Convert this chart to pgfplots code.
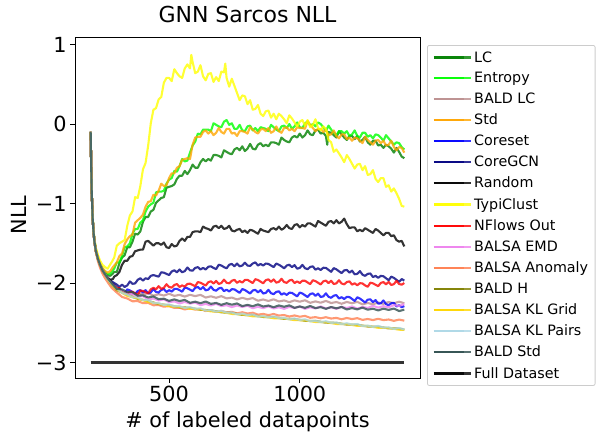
\documentclass[border=0pt]{standalone}
\usepackage{fontspec}
\setmainfont{DejaVu Sans}
\usepackage{pgfplots}
\pgfplotsset{compat=1.18}
\definecolor{cLC}{HTML}{008000}
\definecolor{cEnt}{HTML}{00FF00}
\definecolor{cBLC}{HTML}{BC8F8F}
\definecolor{cStd}{HTML}{FFA500}
\definecolor{cCore}{HTML}{0000FF}
\definecolor{cGCN}{HTML}{000080}
\definecolor{cRand}{HTML}{000000}
\definecolor{cTypi}{HTML}{FFFF00}
\definecolor{cNF}{HTML}{FF0000}
\definecolor{cEMD}{HTML}{EE82EE}
\definecolor{cAnom}{HTML}{FF7F50}
\definecolor{cBH}{HTML}{808000}
\definecolor{cKLG}{HTML}{FFD700}
\definecolor{cKLP}{HTML}{ADD8E6}
\definecolor{cBStd}{HTML}{2F4F4F}
\begin{document}
\begin{tikzpicture}
\useasboundingbox (0,0) rectangle (604bp,434bp);
\begin{axis}[
  at={(75bp,56bp)}, anchor=south west,
  scale only axis, width=345bp, height=341bp,
  xmin=140, xmax=1460, ymin=-3.195, ymax=1.095,
  xtick={500,1000}, xticklabels={500,1000},
  ytick={-3,-2,-1,0,1}, yticklabels={−3,−2,−1,0,1},
  tick pos=left, tick align=outside, major tick length=4.9bp,
  every tick/.style={black, line width=0.8bp},
  axis line style={line width=0.8bp},
  tick label style={font=\fontsize{20.8bp}{25bp}\selectfont},
  title={GNN Sarcos NLL},
  title style={font=\fontsize{22bp}{26bp}\selectfont, at={(axis description cs:0.5,1)}, anchor=base, yshift=8.5bp},
  xlabel={\# of labeled datapoints},
  xlabel style={font=\fontsize{20.8bp}{25bp}\selectfont, at={(axis description cs:0.5,0)}, anchor=base, yshift=-49bp},
  ylabel={NLL},
  ylabel style={font=\fontsize{20.8bp}{25bp}\selectfont, at={(axis description cs:-0.1623,0.478)}, anchor=center},
  every axis plot/.append style={line width=2.1bp, opacity=0.8, mark=none, line join=round},
  legend cell align=left,
  legend image code/.code={\draw[#1] (0bp,0bp) -- (30bp,0bp); \path (0bp,0bp) -- (37bp,0bp);},
  legend style={at={(1.0203,0.9765)}, anchor=north west, draw=black!20, line width=0.8bp, rounded corners=2bp,
    font=\fontsize{14.3bp}{16.7bp}\selectfont, inner xsep=5bp, inner ysep=4bp, row sep=4.85bp},
]
% LC
\addplot[cLC] coordinates {(200,-0.1)(202,-0.55)(204,-0.85)(207,-1.14)(210,-1.31)(214,-1.46)(220,-1.58)(228,-1.69)(236,-1.77)(245,-1.83)(255,-1.88)(265,-1.9)(275,-1.91)(285,-1.88)(290,-1.86)(300,-1.86)(310,-1.75)(320,-1.68)(330,-1.65)(340,-1.55)(350,-1.55)(360,-1.48)(370,-1.38)(380,-1.39)(390,-1.35)(400,-1.23)(410,-1.17)(420,-1.17)(430,-1.10)(440,-1.08)(450,-0.99)(460,-0.96)(470,-0.93)(480,-0.92)(490,-0.80)(500,-0.79)(510,-0.78)(520,-0.76)(530,-0.69)(540,-0.65)(550,-0.65)(560,-0.59)(570,-0.63)(580,-0.58)(590,-0.51)(600,-0.55)(610,-0.55)(620,-0.48)(630,-0.44)(640,-0.47)(650,-0.44)(660,-0.46)(670,-0.39)(680,-0.39)(690,-0.40)(700,-0.42)(710,-0.33)(720,-0.35)(730,-0.37)(740,-0.38)(750,-0.32)(760,-0.30)(770,-0.33)(780,-0.28)(790,-0.34)(800,-0.31)(810,-0.25)(820,-0.31)(830,-0.32)(840,-0.26)(850,-0.24)(860,-0.28)(870,-0.26)(880,-0.28)(890,-0.23)(900,-0.23)(910,-0.24)(920,-0.26)(930,-0.17)(940,-0.20)(950,-0.22)(960,-0.23)(970,-0.17)(980,-0.15)(990,-0.17)(1000,-0.12)(1010,-0.17)(1020,-0.14)(1030,-0.08)(1040,-0.13)(1050,-0.14)(1060,-0.08)(1070,-0.07)(1080,-0.12)(1090,-0.11)(1100,-0.15)(1105,-0.26)(1110,-0.10)(1120,-0.11)(1130,-0.14)(1140,-0.17)(1150,-0.09)(1160,-0.13)(1170,-0.17)(1180,-0.20)(1190,-0.15)(1200,-0.15)(1210,-0.19)(1220,-0.15)(1230,-0.22)(1240,-0.20)(1250,-0.16)(1260,-0.23)(1270,-0.26)(1280,-0.21)(1290,-0.21)(1300,-0.27)(1310,-0.26)(1320,-0.30)(1330,-0.26)(1340,-0.28)(1350,-0.31)(1360,-0.36)(1370,-0.30)(1380,-0.35)(1390,-0.41)(1400,-0.43)};
\addlegendentry{LC}
% Entropy
\addplot[cEnt] coordinates {(200,-0.1)(202,-0.55)(204,-0.85)(207,-1.14)(210,-1.31)(214,-1.46)(220,-1.58)(228,-1.68)(236,-1.76)(245,-1.82)(255,-1.86)(265,-1.89)(275,-1.88)(285,-1.84)(290,-1.82)(300,-1.74)(310,-1.74)(320,-1.66)(330,-1.55)(340,-1.54)(350,-1.50)(360,-1.38)(370,-1.32)(380,-1.32)(390,-1.24)(400,-1.21)(410,-1.10)(420,-1.04)(430,-1.01)(440,-0.99)(450,-0.86)(460,-0.85)(470,-0.85)(480,-0.84)(490,-0.75)(500,-0.70)(510,-0.68)(520,-0.59)(530,-0.60)(540,-0.53)(550,-0.44)(560,-0.47)(570,-0.46)(580,-0.36)(590,-0.27)(600,-0.22)(610,-0.12)(620,-0.13)(630,-0.07)(640,-0.07)(650,-0.07)(660,-0.09)(670,0.01)(680,-0.01)(690,-0.03)(700,-0.04)(710,0.03)(720,0.05)(730,-0.01)(740,0.01)(750,-0.06)(760,-0.06)(770,-0.01)(780,-0.08)(790,-0.09)(800,-0.03)(810,-0.02)(820,-0.08)(830,-0.05)(840,-0.09)(850,-0.04)(860,-0.05)(870,-0.06)(880,-0.09)(890,-0.01)(900,-0.04)(910,-0.07)(920,-0.09)(930,-0.03)(940,-0.02)(950,-0.05)(960,0.0)(970,-0.06)(980,-0.03)(990,0.02)(1000,-0.04)(1010,-0.05)(1020,0.01)(1030,0.03)(1040,-0.02)(1050,0.0)(1060,-0.03)(1070,0.02)(1080,0.0)(1090,-0.04)(1100,-0.09)(1110,-0.02)(1120,-0.07)(1130,-0.11)(1140,-0.14)(1150,-0.09)(1160,-0.09)(1170,-0.12)(1180,-0.09)(1190,-0.15)(1200,-0.13)(1210,-0.08)(1220,-0.15)(1230,-0.17)(1240,-0.11)(1250,-0.11)(1260,-0.16)(1270,-0.14)(1280,-0.18)(1290,-0.13)(1300,-0.14)(1310,-0.17)(1320,-0.21)(1330,-0.14)(1340,-0.18)(1350,-0.22)(1360,-0.26)(1370,-0.23)(1380,-0.24)(1390,-0.29)(1400,-0.32)};
\addlegendentry{Entropy}
% BALD LC
\addplot[cBLC] coordinates {(200,-0.1)(202,-0.55)(204,-0.85)(207,-1.15)(210,-1.32)(214,-1.47)(220,-1.6)(228,-1.7)(236,-1.77)(245,-1.84)(255,-1.89)(265,-1.93)(280,-1.99)(300,-2.055)(320,-2.11)(340,-2.115)(360,-2.145)(380,-2.125)(400,-2.145)(420,-2.127)(440,-2.159)(460,-2.141)(480,-2.158)(500,-2.135)(520,-2.162)(540,-2.149)(560,-2.171)(580,-2.148)(600,-2.165)(620,-2.149)(640,-2.183)(660,-2.167)(680,-2.186)(700,-2.165)(720,-2.194)(740,-2.183)(760,-2.207)(780,-2.186)(800,-2.205)(820,-2.189)(840,-2.223)(860,-2.207)(880,-2.226)(900,-2.205)(920,-2.232)(940,-2.219)(960,-2.241)(980,-2.218)(1000,-2.235)(1020,-2.217)(1040,-2.249)(1060,-2.231)(1080,-2.248)(1100,-2.225)(1120,-2.252)(1140,-2.239)(1160,-2.261)(1180,-2.238)(1200,-2.255)(1220,-2.237)(1240,-2.269)(1260,-2.251)(1280,-2.268)(1300,-2.245)(1320,-2.262)(1340,-2.239)(1360,-2.255)(1380,-2.235)(1400,-2.255)};
\addlegendentry{BALD LC}
% Std
\addplot[cStd] coordinates {(200,-0.1)(202,-0.55)(204,-0.85)(207,-1.14)(210,-1.31)(214,-1.46)(220,-1.58)(228,-1.68)(236,-1.75)(245,-1.81)(255,-1.85)(265,-1.87)(275,-1.85)(285,-1.8)(290,-1.78)(300,-1.74)(310,-1.66)(320,-1.63)(330,-1.51)(340,-1.45)(350,-1.41)(360,-1.39)(370,-1.24)(380,-1.21)(390,-1.18)(400,-1.14)(410,-1.04)(420,-0.98)(430,-0.97)(440,-0.89)(450,-0.90)(460,-0.84)(470,-0.75)(480,-0.78)(490,-0.77)(500,-0.68)(510,-0.62)(520,-0.62)(530,-0.55)(540,-0.53)(550,-0.45)(560,-0.44)(570,-0.43)(580,-0.44)(590,-0.26)(600,-0.17)(610,-0.16)(620,-0.16)(630,-0.10)(640,-0.08)(650,-0.12)(660,-0.09)(670,-0.14)(680,-0.11)(690,-0.05)(700,-0.10)(710,-0.12)(720,-0.06)(730,-0.06)(740,-0.12)(750,-0.11)(760,-0.15)(770,-0.09)(780,-0.09)(790,-0.10)(800,-0.12)(810,-0.04)(820,-0.07)(830,-0.10)(840,-0.12)(850,-0.07)(860,-0.06)(870,-0.09)(880,-0.05)(890,-0.11)(900,-0.09)(910,-0.03)(920,-0.09)(930,-0.11)(940,-0.05)(950,-0.04)(960,-0.08)(970,-0.06)(980,-0.09)(990,-0.04)(1000,-0.05)(1010,-0.05)(1020,-0.06)(1030,0.04)(1040,-0.01)(1050,-0.05)(1060,-0.09)(1070,-0.06)(1080,-0.06)(1090,-0.10)(1100,-0.07)(1110,-0.14)(1120,-0.13)(1130,-0.08)(1140,-0.15)(1150,-0.18)(1160,-0.13)(1170,-0.13)(1180,-0.19)(1190,-0.17)(1200,-0.21)(1210,-0.17)(1220,-0.18)(1230,-0.21)(1240,-0.24)(1250,-0.16)(1260,-0.20)(1270,-0.23)(1280,-0.26)(1290,-0.21)(1300,-0.20)(1310,-0.24)(1320,-0.21)(1330,-0.27)(1340,-0.26)(1350,-0.21)(1360,-0.29)(1370,-0.33)(1380,-0.29)(1390,-0.30)(1400,-0.36)};
\addlegendentry{Std}
% Coreset
\addplot[cCore] coordinates {(200,-0.1)(202,-0.55)(204,-0.85)(207,-1.15)(210,-1.32)(214,-1.47)(220,-1.6)(228,-1.7)(236,-1.77)(245,-1.84)(255,-1.89)(265,-1.94)(280,-2.0)(300,-2.06)(310,-2.07)(320,-2.10)(330,-2.125)(340,-2.08)(350,-2.093)(360,-2.115)(370,-2.138)(380,-2.10)(390,-2.09)(400,-2.12)(410,-2.09)(420,-2.13)(430,-2.118)(440,-2.075)(450,-2.113)(460,-2.12)(470,-2.088)(480,-2.075)(490,-2.113)(500,-2.09)(510,-2.108)(520,-2.075)(530,-2.073)(540,-2.09)(550,-2.109)(560,-2.058)(570,-2.066)(580,-2.084)(590,-2.102)(600,-2.06)(610,-2.05)(620,-2.08)(630,-2.051)(640,-2.092)(650,-2.083)(660,-2.045)(670,-2.086)(680,-2.097)(690,-2.068)(700,-2.06)(710,-2.102)(720,-2.084)(730,-2.106)(740,-2.078)(750,-2.08)(760,-2.102)(770,-2.124)(780,-2.076)(790,-2.088)(800,-2.11)(810,-2.132)(820,-2.094)(830,-2.086)(840,-2.118)(850,-2.09)(860,-2.132)(870,-2.124)(880,-2.086)(890,-2.128)(900,-2.14)(910,-2.112)(920,-2.104)(930,-2.146)(940,-2.128)(950,-2.15)(960,-2.122)(970,-2.124)(980,-2.146)(990,-2.168)(1000,-2.12)(1010,-2.132)(1020,-2.154)(1030,-2.176)(1040,-2.138)(1050,-2.13)(1060,-2.162)(1070,-2.134)(1080,-2.176)(1090,-2.168)(1100,-2.13)(1110,-2.173)(1120,-2.186)(1130,-2.159)(1140,-2.152)(1150,-2.195)(1160,-2.178)(1170,-2.201)(1180,-2.174)(1190,-2.177)(1200,-2.20)(1210,-2.225)(1220,-2.18)(1230,-2.195)(1240,-2.22)(1250,-2.245)(1260,-2.21)(1270,-2.205)(1280,-2.24)(1290,-2.215)(1300,-2.26)(1310,-2.255)(1320,-2.22)(1330,-2.265)(1340,-2.28)(1350,-2.255)(1360,-2.25)(1370,-2.295)(1380,-2.28)(1390,-2.305)(1400,-2.29)};
\addlegendentry{Coreset}
% CoreGCN
\addplot[cGCN] coordinates {(200,-0.1)(202,-0.55)(204,-0.85)(207,-1.15)(210,-1.32)(214,-1.47)(220,-1.6)(228,-1.7)(236,-1.77)(245,-1.84)(255,-1.89)(265,-1.93)(280,-1.98)(300,-2.02)(310,-2.05)(320,-2.02)(330,-2.05)(340,-2.03)(350,-1.98)(360,-2.01)(370,-2.005)(380,-1.96)(390,-1.94)(400,-1.97)(410,-1.94)(420,-1.95)(430,-1.91)(440,-1.90)(450,-1.91)(460,-1.92)(470,-1.865)(480,-1.87)(490,-1.885)(500,-1.90)(510,-1.855)(520,-1.84)(530,-1.865)(540,-1.83)(550,-1.865)(560,-1.85)(570,-1.805)(580,-1.84)(590,-1.845)(600,-1.81)(610,-1.80)(620,-1.83)(630,-1.81)(640,-1.83)(650,-1.795)(660,-1.79)(670,-1.81)(680,-1.825)(690,-1.77)(700,-1.78)(710,-1.80)(720,-1.815)(730,-1.77)(740,-1.76)(750,-1.79)(760,-1.755)(770,-1.79)(780,-1.78)(790,-1.745)(800,-1.78)(810,-1.785)(820,-1.755)(830,-1.74)(840,-1.78)(850,-1.76)(860,-1.78)(870,-1.755)(880,-1.76)(890,-1.78)(900,-1.80)(910,-1.755)(920,-1.77)(930,-1.79)(940,-1.815)(950,-1.78)(960,-1.77)(970,-1.80)(980,-1.775)(990,-1.82)(1000,-1.81)(1010,-1.772)(1020,-1.814)(1030,-1.826)(1040,-1.798)(1050,-1.79)(1060,-1.832)(1070,-1.814)(1080,-1.836)(1090,-1.808)(1100,-1.81)(1110,-1.835)(1120,-1.859)(1130,-1.813)(1140,-1.828)(1150,-1.852)(1160,-1.876)(1170,-1.841)(1180,-1.836)(1190,-1.87)(1200,-1.845)(1210,-1.89)(1220,-1.885)(1230,-1.85)(1240,-1.895)(1250,-1.91)(1260,-1.885)(1270,-1.88)(1280,-1.925)(1290,-1.91)(1300,-1.935)(1310,-1.91)(1320,-1.915)(1330,-1.94)(1340,-1.965)(1350,-1.92)(1360,-1.935)(1370,-1.96)(1380,-1.985)(1390,-1.95)(1400,-1.97)};
\addlegendentry{CoreGCN}
% Random
\addplot[cRand] coordinates {(200,-0.1)(202,-0.55)(204,-0.85)(207,-1.15)(210,-1.32)(214,-1.47)(220,-1.6)(228,-1.7)(236,-1.78)(245,-1.85)(255,-1.9)(265,-1.94)(275,-1.96)(285,-1.95)(290,-1.92)(300,-1.90)(310,-1.86)(320,-1.77)(330,-1.72)(340,-1.72)(350,-1.67)(360,-1.66)(370,-1.60)(380,-1.59)(390,-1.58)(400,-1.58)(410,-1.48)(420,-1.47)(430,-1.50)(440,-1.53)(450,-1.50)(460,-1.50)(470,-1.52)(480,-1.49)(490,-1.55)(500,-1.56)(510,-1.51)(520,-1.54)(530,-1.53)(540,-1.47)(550,-1.44)(560,-1.47)(570,-1.42)(580,-1.42)(590,-1.36)(600,-1.35)(610,-1.35)(620,-1.36)(630,-1.29)(640,-1.31)(650,-1.32)(660,-1.34)(670,-1.29)(680,-1.28)(690,-1.31)(700,-1.28)(710,-1.32)(720,-1.31)(730,-1.28)(740,-1.34)(750,-1.35)(760,-1.33)(770,-1.32)(780,-1.36)(790,-1.34)(800,-1.37)(810,-1.33)(820,-1.34)(830,-1.36)(840,-1.38)(850,-1.32)(860,-1.34)(870,-1.35)(880,-1.36)(890,-1.32)(900,-1.31)(910,-1.33)(920,-1.29)(930,-1.33)(940,-1.31)(950,-1.27)(960,-1.31)(970,-1.32)(980,-1.27)(990,-1.26)(1000,-1.30)(1010,-1.27)(1020,-1.29)(1030,-1.25)(1040,-1.25)(1050,-1.27)(1060,-1.29)(1070,-1.22)(1080,-1.24)(1090,-1.26)(1100,-1.28)(1110,-1.23)(1120,-1.22)(1130,-1.25)(1140,-1.21)(1150,-1.25)(1160,-1.23)(1170,-1.19)(1180,-1.26)(1190,-1.31)(1200,-1.30)(1210,-1.30)(1220,-1.35)(1230,-1.33)(1240,-1.35)(1250,-1.31)(1260,-1.33)(1270,-1.35)(1280,-1.37)(1290,-1.32)(1300,-1.34)(1310,-1.37)(1320,-1.40)(1330,-1.37)(1340,-1.37)(1350,-1.41)(1360,-1.40)(1370,-1.46)(1380,-1.48)(1390,-1.47)(1400,-1.54)};
\addlegendentry{Random}
% TypiClust
\addplot[cTypi] coordinates {(200,-0.1)(202,-0.55)(204,-0.85)(207,-1.13)(210,-1.3)(214,-1.44)(220,-1.56)(228,-1.65)(236,-1.72)(245,-1.77)(255,-1.8)(265,-1.82)(272,-1.78)(280,-1.74)(290,-1.68)(300,-1.53)(310,-1.50)(320,-1.48)(330,-1.46)(340,-1.28)(350,-1.15)(360,-1.10)(370,-0.92)(380,-0.93)(390,-0.78)(400,-0.57)(410,-0.49)(420,-0.27)(430,0.01)(440,0.18)(450,0.20)(460,0.31)(470,0.34)(480,0.52)(490,0.58)(500,0.58)(510,0.54)(520,0.69)(530,0.64)(540,0.60)(550,0.58)(560,0.70)(570,0.75)(580,0.70)(585,0.87)(590,0.78)(600,0.64)(610,0.66)(620,0.74)(630,0.60)(640,0.55)(650,0.63)(660,0.64)(670,0.53)(680,0.59)(690,0.54)(700,0.66)(710,0.65)(715,0.76)(720,0.58)(730,0.47)(740,0.57)(750,0.48)(760,0.39)(770,0.30)(780,0.36)(790,0.35)(800,0.25)(810,0.30)(820,0.18)(830,0.19)(840,0.24)(850,0.13)(860,0.10)(870,0.16)(880,0.17)(890,0.08)(900,0.13)(910,0.06)(920,0.13)(930,0.10)(940,0.06)(950,0.01)(960,0.11)(970,0.07)(980,0.02)(990,-0.03)(1000,0.03)(1010,0.05)(1020,-0.02)(1030,0.05)(1040,-0.04)(1050,-0.01)(1060,0.06)(1070,-0.05)(1080,-0.08)(1090,-0.03)(1100,-0.06)(1110,-0.20)(1120,-0.23)(1130,-0.35)(1140,-0.32)(1150,-0.37)(1160,-0.42)(1170,-0.48)(1180,-0.39)(1190,-0.44)(1200,-0.50)(1210,-0.56)(1220,-0.51)(1230,-0.50)(1240,-0.58)(1250,-0.53)(1260,-0.64)(1270,-0.63)(1280,-0.58)(1290,-0.69)(1300,-0.73)(1310,-0.68)(1320,-0.68)(1330,-0.79)(1340,-0.77)(1350,-0.85)(1360,-0.81)(1370,-0.87)(1380,-0.94)(1390,-1.03)(1400,-1.04)};
\addlegendentry{TypiClust}
% NFlows Out
\addplot[cNF] coordinates {(200,-0.1)(202,-0.55)(204,-0.85)(207,-1.15)(210,-1.32)(214,-1.47)(220,-1.6)(228,-1.7)(236,-1.77)(245,-1.84)(255,-1.89)(265,-1.94)(280,-2.01)(300,-2.06)(310,-2.065)(320,-2.12)(330,-2.11)(340,-2.14)(350,-2.11)(360,-2.11)(370,-2.13)(380,-2.15)(390,-2.095)(400,-2.10)(410,-2.115)(420,-2.13)(430,-2.08)(440,-2.06)(450,-2.08)(460,-2.04)(470,-2.075)(480,-2.06)(490,-2.015)(500,-2.05)(510,-2.058)(520,-2.025)(530,-2.013)(540,-2.05)(550,-2.03)(560,-2.046)(570,-2.012)(580,-2.008)(590,-2.024)(600,-2.04)(610,-1.988)(620,-1.996)(630,-2.014)(640,-2.032)(650,-1.99)(660,-1.978)(670,-2.006)(680,-1.974)(690,-2.012)(700,-2.0)(710,-1.958)(720,-1.996)(730,-2.004)(740,-1.972)(750,-1.96)(760,-1.998)(770,-1.976)(780,-1.994)(790,-1.962)(800,-1.96)(810,-1.98)(820,-2.001)(830,-1.952)(840,-1.962)(850,-1.983)(860,-2.003)(870,-1.964)(880,-1.954)(890,-1.985)(900,-1.955)(910,-1.995)(920,-1.986)(930,-1.947)(940,-1.988)(950,-1.998)(960,-1.969)(970,-1.959)(980,-2.0)(990,-1.98)(1000,-2.0)(1010,-1.971)(1020,-1.972)(1030,-1.993)(1040,-2.014)(1050,-1.965)(1060,-1.976)(1070,-1.997)(1080,-2.018)(1090,-1.979)(1100,-1.97)(1110,-2.001)(1120,-1.972)(1130,-2.013)(1140,-2.004)(1150,-1.965)(1160,-2.006)(1170,-2.017)(1180,-1.988)(1190,-1.979)(1200,-2.02)(1210,-2.004)(1220,-2.028)(1230,-2.002)(1240,-2.006)(1250,-2.03)(1260,-2.048)(1270,-1.996)(1280,-2.004)(1290,-2.022)(1300,-2.04)(1310,-1.999)(1320,-1.988)(1330,-2.017)(1340,-1.986)(1350,-2.025)(1360,-2.014)(1370,-1.973)(1380,-2.012)(1390,-2.021)(1400,-2.0)};
\addlegendentry{NFlows Out}
% BALSA EMD
\addplot[cEMD] coordinates {(200,-0.1)(202,-0.55)(204,-0.85)(207,-1.15)(210,-1.32)(214,-1.47)(220,-1.6)(228,-1.7)(236,-1.77)(245,-1.84)(255,-1.89)(265,-1.94)(280,-2.01)(300,-2.09)(320,-2.10)(340,-2.145)(360,-2.137)(380,-2.168)(400,-2.165)(420,-2.205)(440,-2.195)(460,-2.22)(480,-2.205)(500,-2.24)(520,-2.231)(540,-2.257)(560,-2.238)(580,-2.259)(600,-2.245)(620,-2.279)(640,-2.263)(660,-2.282)(680,-2.261)(700,-2.29)(720,-2.279)(740,-2.303)(760,-2.282)(780,-2.301)(800,-2.285)(820,-2.317)(840,-2.299)(860,-2.316)(880,-2.293)(900,-2.32)(920,-2.305)(940,-2.325)(960,-2.30)(980,-2.315)(1000,-2.295)(1020,-2.325)(1040,-2.305)(1060,-2.32)(1080,-2.295)(1100,-2.32)(1120,-2.305)(1140,-2.325)(1160,-2.30)(1180,-2.315)(1200,-2.295)(1220,-2.323)(1240,-2.301)(1260,-2.314)(1280,-2.287)(1300,-2.31)(1320,-2.291)(1340,-2.307)(1360,-2.278)(1380,-2.289)(1400,-2.265)};
\addlegendentry{BALSA EMD}
% BALSA Anomaly
\addplot[cAnom] coordinates {(200,-0.1)(202,-0.55)(204,-0.85)(207,-1.15)(210,-1.33)(214,-1.49)(220,-1.62)(228,-1.73)(236,-1.81)(245,-1.88)(255,-1.94)(265,-1.99)(280,-2.06)(300,-2.12)(320,-2.175)(340,-2.195)(360,-2.23)(380,-2.227)(400,-2.254)(420,-2.25)(440,-2.28)(460,-2.277)(480,-2.298)(500,-2.29)(520,-2.313)(540,-2.311)(560,-2.332)(580,-2.318)(600,-2.334)(620,-2.326)(640,-2.352)(660,-2.345)(680,-2.362)(700,-2.35)(720,-2.369)(740,-2.363)(760,-2.382)(780,-2.368)(800,-2.384)(820,-2.374)(840,-2.398)(860,-2.389)(880,-2.404)(900,-2.39)(920,-2.409)(940,-2.403)(960,-2.422)(980,-2.408)(1000,-2.424)(1020,-2.414)(1040,-2.438)(1060,-2.429)(1080,-2.444)(1100,-2.43)(1120,-2.447)(1140,-2.439)(1160,-2.456)(1180,-2.44)(1200,-2.454)(1220,-2.442)(1240,-2.464)(1260,-2.453)(1280,-2.466)(1300,-2.45)(1320,-2.467)(1340,-2.459)(1360,-2.476)(1380,-2.46)(1400,-2.474)};
\addlegendentry{BALSA Anomaly}
% BALD H
\addplot[cBH] coordinates {(200,-0.1)(202,-0.55)(204,-0.85)(207,-1.15)(210,-1.32)(214,-1.47)(220,-1.6)(228,-1.7)(236,-1.77)(245,-1.84)(255,-1.89)(265,-1.95)(280,-2.02)(300,-2.09)(340,-2.149)(380,-2.199)(420,-2.225)(460,-2.265)(500,-2.279)(540,-2.305)(580,-2.311)(620,-2.337)(660,-2.343)(700,-2.369)(740,-2.375)(780,-2.401)(820,-2.405)(860,-2.427)(900,-2.429)(940,-2.451)(980,-2.453)(1020,-2.475)(1060,-2.477)(1100,-2.499)(1140,-2.501)(1180,-2.523)(1220,-2.525)(1260,-2.547)(1300,-2.549)(1340,-2.571)(1380,-2.573)(1400,-2.586)};
\addlegendentry{BALD H}
% BALSA KL Grid
\addplot[cKLG] coordinates {(200,-0.1)(202,-0.55)(204,-0.85)(207,-1.15)(210,-1.32)(214,-1.47)(220,-1.6)(228,-1.7)(236,-1.77)(245,-1.84)(255,-1.89)(265,-1.95)(280,-2.02)(300,-2.083)(340,-2.163)(380,-2.193)(420,-2.239)(460,-2.259)(500,-2.293)(540,-2.299)(580,-2.325)(620,-2.331)(660,-2.357)(700,-2.363)(740,-2.389)(780,-2.395)(820,-2.419)(860,-2.421)(900,-2.443)(940,-2.445)(980,-2.467)(1020,-2.469)(1060,-2.491)(1100,-2.493)(1140,-2.515)(1180,-2.517)(1220,-2.539)(1260,-2.541)(1300,-2.563)(1340,-2.565)(1380,-2.587)(1400,-2.59)};
\addlegendentry{BALSA KL Grid}
% BALSA KL Pairs
\addplot[cKLP] coordinates {(200,-0.1)(202,-0.55)(204,-0.85)(207,-1.15)(210,-1.32)(214,-1.47)(220,-1.6)(228,-1.7)(236,-1.77)(245,-1.84)(255,-1.89)(265,-1.95)(280,-2.01)(300,-2.07)(320,-2.125)(340,-2.145)(360,-2.18)(380,-2.182)(400,-2.214)(420,-2.216)(440,-2.252)(460,-2.253)(480,-2.276)(500,-2.27)(520,-2.293)(540,-2.291)(560,-2.314)(580,-2.304)(600,-2.324)(620,-2.318)(640,-2.346)(660,-2.341)(680,-2.36)(700,-2.35)(720,-2.373)(740,-2.371)(760,-2.394)(780,-2.384)(800,-2.404)(820,-2.396)(840,-2.422)(860,-2.415)(880,-2.432)(900,-2.42)(920,-2.441)(940,-2.437)(960,-2.458)(980,-2.446)(1000,-2.464)(1020,-2.456)(1040,-2.482)(1060,-2.475)(1080,-2.492)(1100,-2.48)(1120,-2.501)(1140,-2.497)(1160,-2.518)(1180,-2.506)(1200,-2.524)(1220,-2.516)(1240,-2.542)(1260,-2.535)(1280,-2.552)(1300,-2.54)(1320,-2.561)(1340,-2.557)(1360,-2.578)(1380,-2.566)(1400,-2.584)};
\addlegendentry{BALSA KL Pairs}
% BALD Std
\addplot[cBStd] coordinates {(200,-0.1)(202,-0.55)(204,-0.85)(207,-1.15)(210,-1.32)(214,-1.47)(220,-1.6)(228,-1.7)(236,-1.77)(245,-1.84)(255,-1.89)(265,-1.94)(280,-2.0)(300,-2.075)(320,-2.08)(340,-2.115)(360,-2.115)(380,-2.16)(400,-2.155)(420,-2.182)(440,-2.169)(460,-2.204)(480,-2.197)(500,-2.225)(520,-2.206)(540,-2.227)(560,-2.213)(580,-2.249)(600,-2.235)(620,-2.254)(640,-2.233)(660,-2.262)(680,-2.251)(700,-2.275)(720,-2.254)(740,-2.273)(760,-2.257)(780,-2.291)(800,-2.275)(820,-2.292)(840,-2.269)(860,-2.296)(880,-2.283)(900,-2.305)(920,-2.282)(940,-2.299)(960,-2.281)(980,-2.313)(1000,-2.295)(1020,-2.312)(1040,-2.289)(1060,-2.316)(1080,-2.303)(1100,-2.325)(1120,-2.302)(1140,-2.319)(1160,-2.301)(1180,-2.333)(1200,-2.315)(1220,-2.332)(1240,-2.309)(1260,-2.336)(1280,-2.323)(1300,-2.345)(1320,-2.322)(1340,-2.339)(1360,-2.321)(1380,-2.353)(1400,-2.335)};
\addlegendentry{BALD Std}
% Full Dataset
\addplot[black, line width=2.8bp] coordinates {(200,-3)(1400,-3)};
\addlegendentry{Full Dataset}
\end{axis}
\end{tikzpicture}
\end{document}
